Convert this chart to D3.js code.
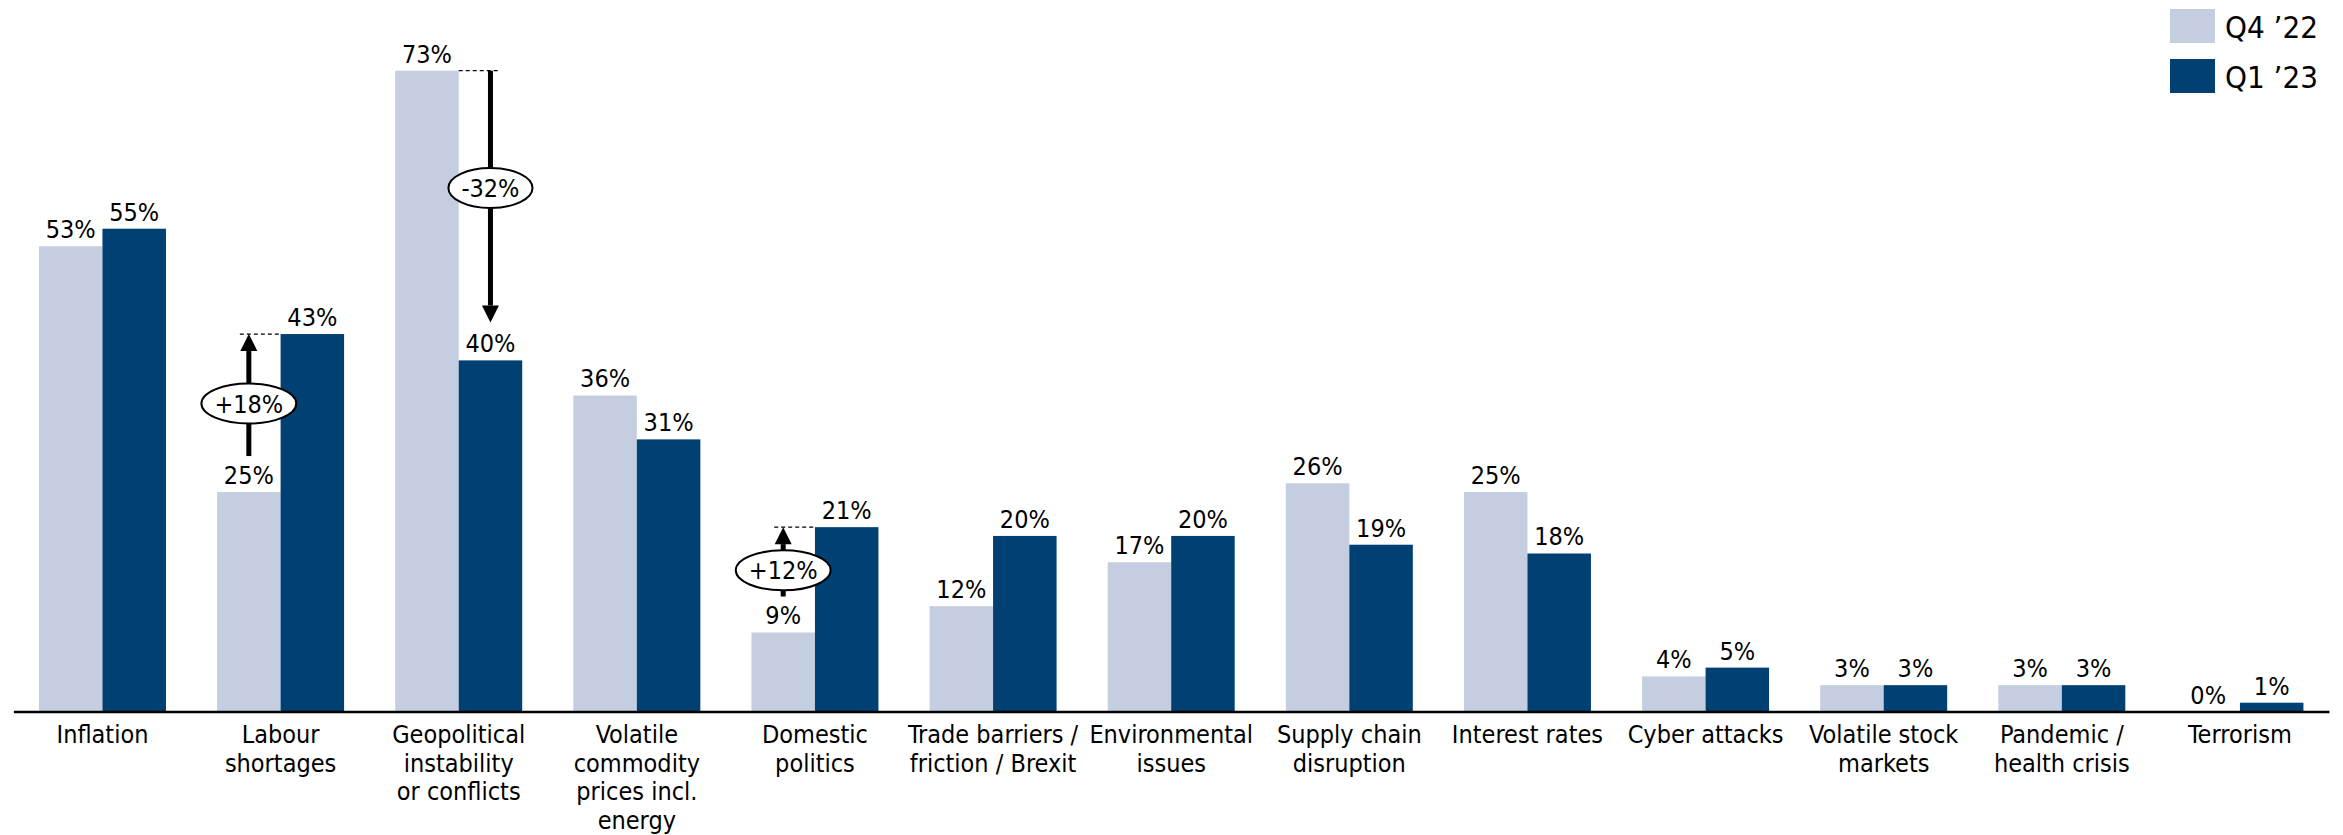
<!DOCTYPE html>
<html>
<head>
<meta charset="utf-8">
<script src="https://cdn.jsdelivr.net/npm/d3@7"></script>
<style>
  html, body { margin: 0; padding: 0; background: #fff; }
  svg { display: block; }
  text { font-family: "DejaVu Sans Condensed", "DejaVu Sans", sans-serif; font-stretch: condensed; fill: #000; }
</style>
</head>
<body>
<svg id="chart" width="2343" height="835"></svg>
<script>
// Risk categories (line breaks mark wrapped axis labels)
const categories = [
  "Inflation",
  "Labour\nshortages",
  "Geopolitical\ninstability\nor conflicts",
  "Volatile\ncommodity\nprices incl.\nenergy",
  "Domestic\npolitics",
  "Trade barriers /\nfriction / Brexit",
  "Environmental\nissues",
  "Supply chain\ndisruption",
  "Interest rates",
  "Cyber attacks",
  "Volatile stock\nmarkets",
  "Pandemic /\nhealth crisis",
  "Terrorism"
];

// Share of respondents (%)
const seriesNames = ["Q4 \u201922", "Q1 \u201923"];
const q4Values = [53, 25, 73, 36, 9, 12, 17, 26, 25, 4, 3, 3, 0];
const q1Values = [55, 43, 40, 31, 21, 20, 20, 19, 18, 5, 3, 3, 1];
const seriesColors = ["#c4cee0", "#004073"];

// Highlighted quarter-on-quarter changes
const changeCategories = [categories[1], categories[2], categories[4]];
const changeLabels = ["+18%", "-32%", "+12%"];

const svg = d3.select("#chart");
const baseY = 711.5;
const fontSize = 25;

const x0 = d3.scaleBand()
  .domain(categories)
  .range([13.4, 2329])
  .paddingInner(0.287)
  .paddingOuter(0.1435);

const x1 = d3.scaleBand()
  .domain(seriesNames)
  .range([0, x0.bandwidth()]);

const y = d3.scaleLinear()
  .domain([0, 73])
  .range([baseY, 70.7]);

const rows = categories.map((c, i) => ({ cat: c, vals: [q4Values[i], q1Values[i]] }));

// Bars
const groups = svg.append("g").selectAll("g")
  .data(rows)
  .join("g")
  .attr("transform", d => `translate(${x0(d.cat)},0)`);

groups.selectAll("rect")
  .data(d => d.vals.map((v, k) => ({ key: seriesNames[k], v, k })))
  .join("rect")
  .attr("x", d => x1(d.key))
  .attr("width", x1.bandwidth())
  .attr("y", d => y(d.v))
  .attr("height", d => baseY - y(d.v))
  .attr("fill", d => seriesColors[d.k]);

// Value labels
groups.selectAll("text.val")
  .data(d => d.vals.map((v, k) => ({ key: seriesNames[k], v, k })))
  .join("text")
  .attr("class", "val")
  .attr("x", d => x1(d.key) + x1.bandwidth() / 2)
  .attr("y", d => y(d.v) - 8)
  .attr("text-anchor", "middle")
  .attr("font-size", fontSize)
  .text(d => d.v + "%");

// Axis with wrapped category labels
const axis = svg.append("g")
  .attr("transform", `translate(0,${baseY})`)
  .call(d3.axisBottom(x0).tickSize(0).tickSizeOuter(0).tickPadding(0));

axis.select(".domain").attr("stroke", "#000").attr("stroke-width", 2.5);
axis.selectAll(".tick text").each(function(d) {
  const t = d3.select(this);
  t.text(null)
    .attr("font-size", fontSize)
    .attr("font-family", null)
    .attr("y", 0)
    .attr("dy", null);
  d.split("\n").forEach((line, li) => {
    t.append("tspan")
      .attr("x", 0)
      .attr("y", 31.5 + li * 28.6)
      .text(line);
  });
});
axis.attr("font-family", null).attr("font-size", null);

// Change arrows with ellipse badges
const ann = svg.append("g");
changeCategories.forEach((cat, j) => {
  const i = categories.indexOf(cat);
  const a = q4Values[i], b = q1Values[i];
  const up = b > a;
  const g = ann.append("g");
  const headH = 17, headW = 17;
  let ax, yStart, yTip;
  if (up) {
    ax = x0(cat) + x1(seriesNames[0]) + x1.bandwidth() / 2;
    yStart = y(a) - 8 - 18 - 10;
    yTip = y(b);
    g.append("line")
      .attr("x1", ax - 9).attr("x2", x0(cat) + x1(seriesNames[1]))
      .attr("y1", yTip).attr("y2", yTip)
      .attr("stroke", "#000").attr("stroke-width", 1.2).attr("stroke-dasharray", "4,3");
  } else {
    ax = x0(cat) + x1(seriesNames[1]) + x1.bandwidth() / 2;
    yStart = y(a);
    yTip = y(b) - 8 - 18 - 12;
    g.append("line")
      .attr("x1", x0(cat) + x1(seriesNames[0]) + x1.bandwidth()).attr("x2", ax + 9)
      .attr("y1", yStart).attr("y2", yStart)
      .attr("stroke", "#000").attr("stroke-width", 1.2).attr("stroke-dasharray", "4,3");
  }
  const dir = up ? -1 : 1;
  const yBase = yTip - dir * headH;
  g.append("line")
    .attr("x1", ax).attr("x2", ax)
    .attr("y1", yStart).attr("y2", yBase)
    .attr("stroke", "#000").attr("stroke-width", 5);
  g.append("path")
    .attr("d", `M${ax - headW / 2},${yBase} L${ax + headW / 2},${yBase} L${ax},${yTip} Z`)
    .attr("fill", "#000");
  const cy = (yStart + yBase) / 2;
  const el = g.append("ellipse")
    .attr("cx", ax).attr("cy", cy)
    .attr("ry", 20)
    .attr("fill", "#fff").attr("stroke", "#000").attr("stroke-width", 2);
  const txt = g.append("text")
    .attr("x", ax).attr("y", cy)
    .attr("dy", "0.36em")
    .attr("text-anchor", "middle")
    .attr("font-size", fontSize)
    .text(changeLabels[j]);
  const w = txt.node().getComputedTextLength();
  el.attr("rx", w / 2 + 13);
});

// Legend
const legend = svg.append("g");
seriesNames.forEach((name, k) => {
  legend.append("rect")
    .attr("x", 2170).attr("y", 9 + k * 50)
    .attr("width", 45).attr("height", 34)
    .attr("fill", seriesColors[k]);
  legend.append("text")
    .attr("x", 2225).attr("y", 38 + k * 49.5)
    .attr("font-size", 31)
    .text(name);
});
</script>
</body>
</html>
